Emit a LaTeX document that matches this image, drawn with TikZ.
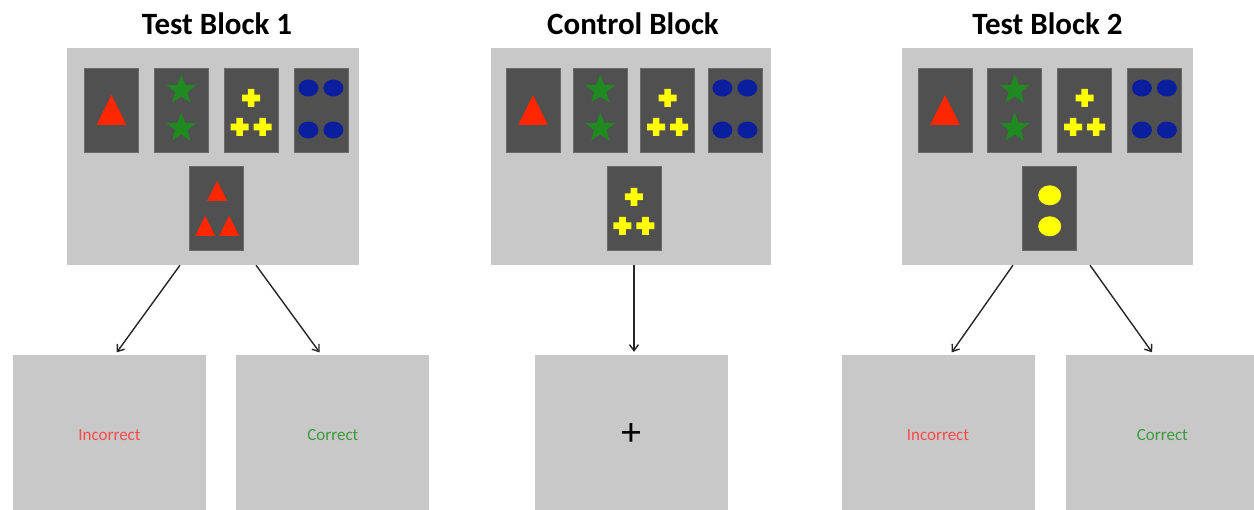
\documentclass[tikz,border=0pt]{standalone}
\usepackage{fontspec}
\setmainfont{Carlito}
\usetikzlibrary{shapes.geometric, arrows.meta, positioning}
\definecolor{PanelGray}{HTML}{C8C8C8}
\definecolor{CardGray}{HTML}{505050}
\definecolor{CardEdge}{HTML}{6A6A6A}
\definecolor{ShapeRed}{HTML}{FF2600}
\definecolor{ShapeGreen}{HTML}{1F8A1F}
\definecolor{ShapeYellow}{HTML}{FFFF00}
\definecolor{ShapeBlue}{HTML}{0A1E9E}
\definecolor{WrongRed}{HTML}{FF4A4A}
\definecolor{RightGreen}{HTML}{3C9A3C}

\begin{document}
\begin{tikzpicture}[
    x=1pt, y=-1pt,
    panel/.style={rectangle, fill=PanelGray, minimum height=217pt, inner sep=0pt},
    card/.style={rectangle, fill=CardGray, draw=CardEdge, line width=0.8pt,
                 minimum width=54pt, minimum height=84pt, inner sep=0pt},
    screen/.style={rectangle, fill=PanelGray, minimum width=193pt, minimum height=160pt,
                   inner sep=0pt, font=\fontsize{17}{20}\selectfont},
    title/.style={font=\fontsize{31}{36}\selectfont\bfseries, inner sep=0pt},
    link/.style={-{Straight Barb[length=6pt,width=9pt]}, line width=1.4pt, black!85, shorten >=3pt},
    starmark/.style={star, star points=5, star point ratio=2.4, fill=ShapeGreen,
                     minimum size=31pt, inner sep=0pt},
    pics/tri/.style={code={\fill[ShapeRed] (-#1/2,#1/2) -- (0,-#1/2) -- (#1/2,#1/2) -- cycle;}},
    pics/plusmark/.style={code={\fill[ShapeYellow] (-9,-3.3) rectangle (9,3.3) (-3.3,-9) rectangle (3.3,9);}},
    pics/onetri/.style={code={\pic {tri=30};}},
    pics/twostars/.style={code={\node[starmark] at (0,-20) {}; \node[starmark] at (0,18) {};}},
    pics/threeplus/.style={code={\pic at (0,-12) {plusmark}; \pic at (-11.5,17) {plusmark}; \pic at (11.5,17) {plusmark};}},
    pics/fourdots/.style={code={\fill[ShapeBlue] (-12.5,-22) ellipse [x radius=10, y radius=8.5]
        (12.5,-22) ellipse [x radius=10, y radius=8.5] (-12.5,20) ellipse [x radius=10, y radius=8.5]
        (12.5,20) ellipse [x radius=10, y radius=8.5];}},
    pics/threetri/.style={code={\pic at (1,-18) {tri=20}; \pic at (-11,17) {tri=20}; \pic at (13,17) {tri=20};}},
    pics/twodots/.style={code={\fill[ShapeYellow] (0,-13.5) ellipse [x radius=11.5, y radius=10]
        (0,17.5) ellipse [x radius=11.5, y radius=10];}}
]
    \useasboundingbox (0,0) rectangle (1254,510);

    % Blocks
    \node[panel, minimum width=292pt] (test1) at (213,156.5) {};
    \node[panel, minimum width=280pt] (ctrl) at (631,156.5) {};
    \node[panel, minimum width=291pt] (test2) at (1047.5,156.5) {};

    \node[title, above=13pt of test1, xshift=4pt] {Test Block 1};
    \node[title, above=13pt of ctrl, xshift=2pt] {Control Block};
    \node[title, above=13pt of test2] {Test Block 2};

    % Reference cards
    \node[card] (t1c1) at (111.5,110) {};
    \node[card, right=15pt of t1c1] (t1c2) {};
    \node[card, right=15pt of t1c2] (t1c3) {};
    \node[card, right=15pt of t1c3] (t1c4) {};

    \node[card] (ctc1) at (533,110) {};
    \node[card, right=12.5pt of ctc1] (ctc2) {};
    \node[card, right=12.5pt of ctc2] (ctc3) {};
    \node[card, right=12.5pt of ctc3] (ctc4) {};

    \node[card] (t2c1) at (945,110) {};
    \node[card, right=15pt of t2c1] (t2c2) {};
    \node[card, right=15pt of t2c2] (t2c3) {};
    \node[card, right=15pt of t2c3] (t2c4) {};

    % Probe cards
    \foreach \b in {t1,ct,t2} {
        \path (\b c2.south) -- (\b c3.south) coordinate[midway] (\b mid);
        \node[card, below=14pt of \b mid] (\b c5) {};
        \pic at (\b c1) {onetri};
        \pic at (\b c2) {twostars};
        \pic at (\b c3) {threeplus};
        \pic at (\b c4) {fourdots};
    }
    \pic at (t1c5) {threetri};
    \pic at (ctc5) {threeplus};
    \pic at (t2c5) {twodots};

    % Feedback screens
    \node[screen, text=WrongRed] (t1wrong) at (109.5,435) {Incorrect};
    \node[screen, text=RightGreen, right=30pt of t1wrong] (t1right) {Correct};
    \node[screen] (ctfix) at (631.5,435) {\fontsize{40}{40}\selectfont +};
    \node[screen, text=WrongRed] (t2wrong) at (938,435) {Incorrect};
    \node[screen, text=RightGreen, right=31pt of t2wrong] (t2right) {Correct};

    \draw[link] ([xshift=-33pt]test1.south) -- ([xshift=5.5pt]t1wrong.north);
    \draw[link] ([xshift=43pt]test1.south) -- ([xshift=-11.5pt]t1right.north);
    \draw[link] ([xshift=3pt]ctrl.south) -- ([xshift=2.5pt]ctfix.north);
    \draw[link] ([xshift=-34.5pt]test2.south) -- ([xshift=12pt]t2wrong.north);
    \draw[link] ([xshift=42.5pt]test2.south) -- ([xshift=-8.5pt]t2right.north);
\end{tikzpicture}
\end{document}
